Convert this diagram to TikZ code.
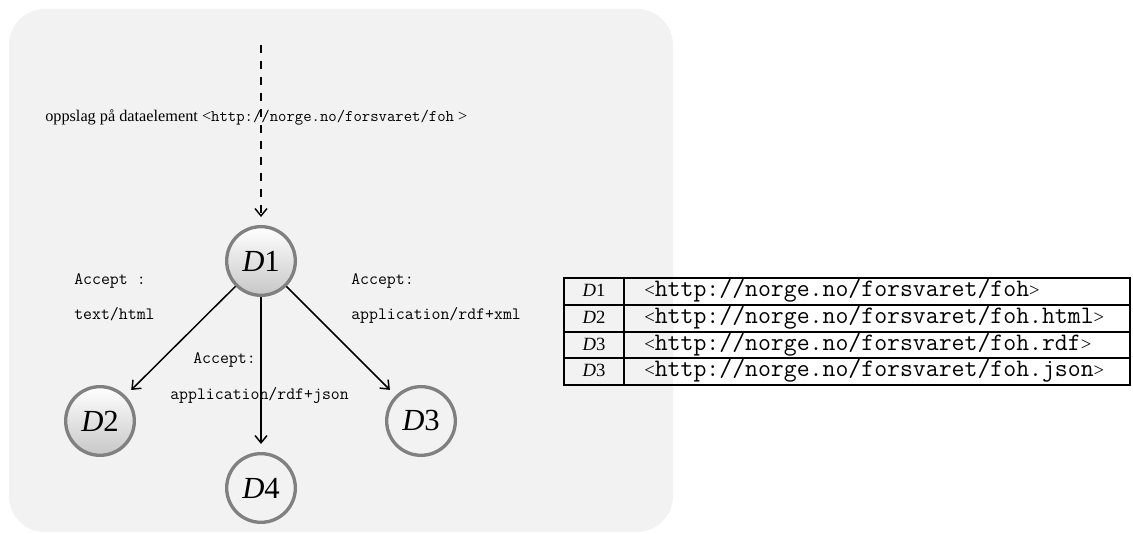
\documentclass[tikz,border=0pt]{standalone}
\usepackage{fontspec}
\setmainfont{Liberation Serif}
\usetikzlibrary{arrows.meta}
\definecolor{bg}{HTML}{F2F2F2}
\definecolor{ring}{HTML}{808080}
\begin{document}
\begin{tikzpicture}[x=0.75pt,y=-0.75pt,
  dnode/.style={circle,draw=ring,line width=2.5pt,minimum size=51.5pt,inner sep=0pt,
    font=\fontsize{23}{25}\selectfont},
  ballfill/.style={top color=white,bottom color=black!22},
  edge/.style={line width=1.1pt,-{Straight Barb[length=5.5pt,width=9pt]},shorten >=6pt},
  dashedge/.style={edge,dash pattern=on 6pt off 6pt},
  lbl/.style={font=\fontsize{13}{15}\selectfont\ttfamily,inner sep=0pt,anchor=base west},
  toplbl/.style={font=\fontsize{12.2}{14}\selectfont,inner sep=0pt,anchor=base west},
  tabd/.style={font=\fontsize{14}{16}\selectfont,inner sep=0pt,anchor=base},
  tabt/.style={inner sep=0pt,anchor=base west},
  tabline/.style={line width=0.8pt,draw=black}]
\useasboundingbox (0,0) rectangle (1133,534);
\fill[bg,rounded corners=27pt] (9,9) rectangle (673,532);

% nodes
\node[dnode,ballfill] (D1) at (261,261) {{\itshape D}1};
\node[dnode,ballfill] (D2) at (100,421) {{\itshape D}2};
\node[dnode] (D3) at (421,421) {{\itshape D}3};
\node[dnode] (D4) at (261,488) {{\itshape D}4};

\coordinate (start) at (261,45);
\draw[dashedge] (start) -- (D1);
\draw[edge] (D1) -- (D2);
\draw[edge] (D1) -- (D4);
\draw[edge] (D1) -- (D3);

% labels
\node[toplbl] (qlabel) at (45,122) {oppslag på dataelement <{\ttfamily http://norge.no/forsvaret/foh} >};
\node[lbl] (a2) at (74,285) {Accept :};
\node[lbl] (m2) at (74,320) {text/html};
\node[lbl] (a3) at (351,285) {Accept:};
\node[lbl] (m3) at (351,320) {application/rdf+xml};
\node[lbl] (a4) at (193,364) {Accept:};
\node[lbl] (m4) at (170,400) {application/rdf+json};

% table
\draw[tabline] (564,278) rectangle (1130,385);
\draw[tabline] (564,305) -- (1130,305);
\draw[tabline] (564,332) -- (1130,332);
\draw[tabline] (564,358) -- (1130,358);
\draw[tabline] (624,278) -- (624,385);
\node[tabd] (r1) at (594,297) {{\itshape D}1};
\node[tabd] (r2) at (594,323.7) {{\itshape D}2};
\node[tabd] (r3) at (594,350.3) {{\itshape D}3};
\node[tabd] (r4) at (594,377) {{\itshape D}3};
\node[tabt] (u1) at (644,297) {{\fontsize{14}{16}\selectfont<}{\fontsize{18.8}{20}\selectfont\ttfamily http://norge.no/forsvaret/foh}{\fontsize{14}{16}\selectfont>}};
\node[tabt] (u2) at (644,323.7) {{\fontsize{14}{16}\selectfont<}{\fontsize{18.8}{20}\selectfont\ttfamily http://norge.no/forsvaret/foh.html}{\fontsize{14}{16}\selectfont>}};
\node[tabt] (u3) at (644,350.3) {{\fontsize{14}{16}\selectfont<}{\fontsize{18.8}{20}\selectfont\ttfamily http://norge.no/forsvaret/foh.rdf}{\fontsize{14}{16}\selectfont>}};
\node[tabt] (u4) at (644,377) {{\fontsize{14}{16}\selectfont<}{\fontsize{18.8}{20}\selectfont\ttfamily http://norge.no/forsvaret/foh.json}{\fontsize{14}{16}\selectfont>}};
\end{tikzpicture}
\end{document}
